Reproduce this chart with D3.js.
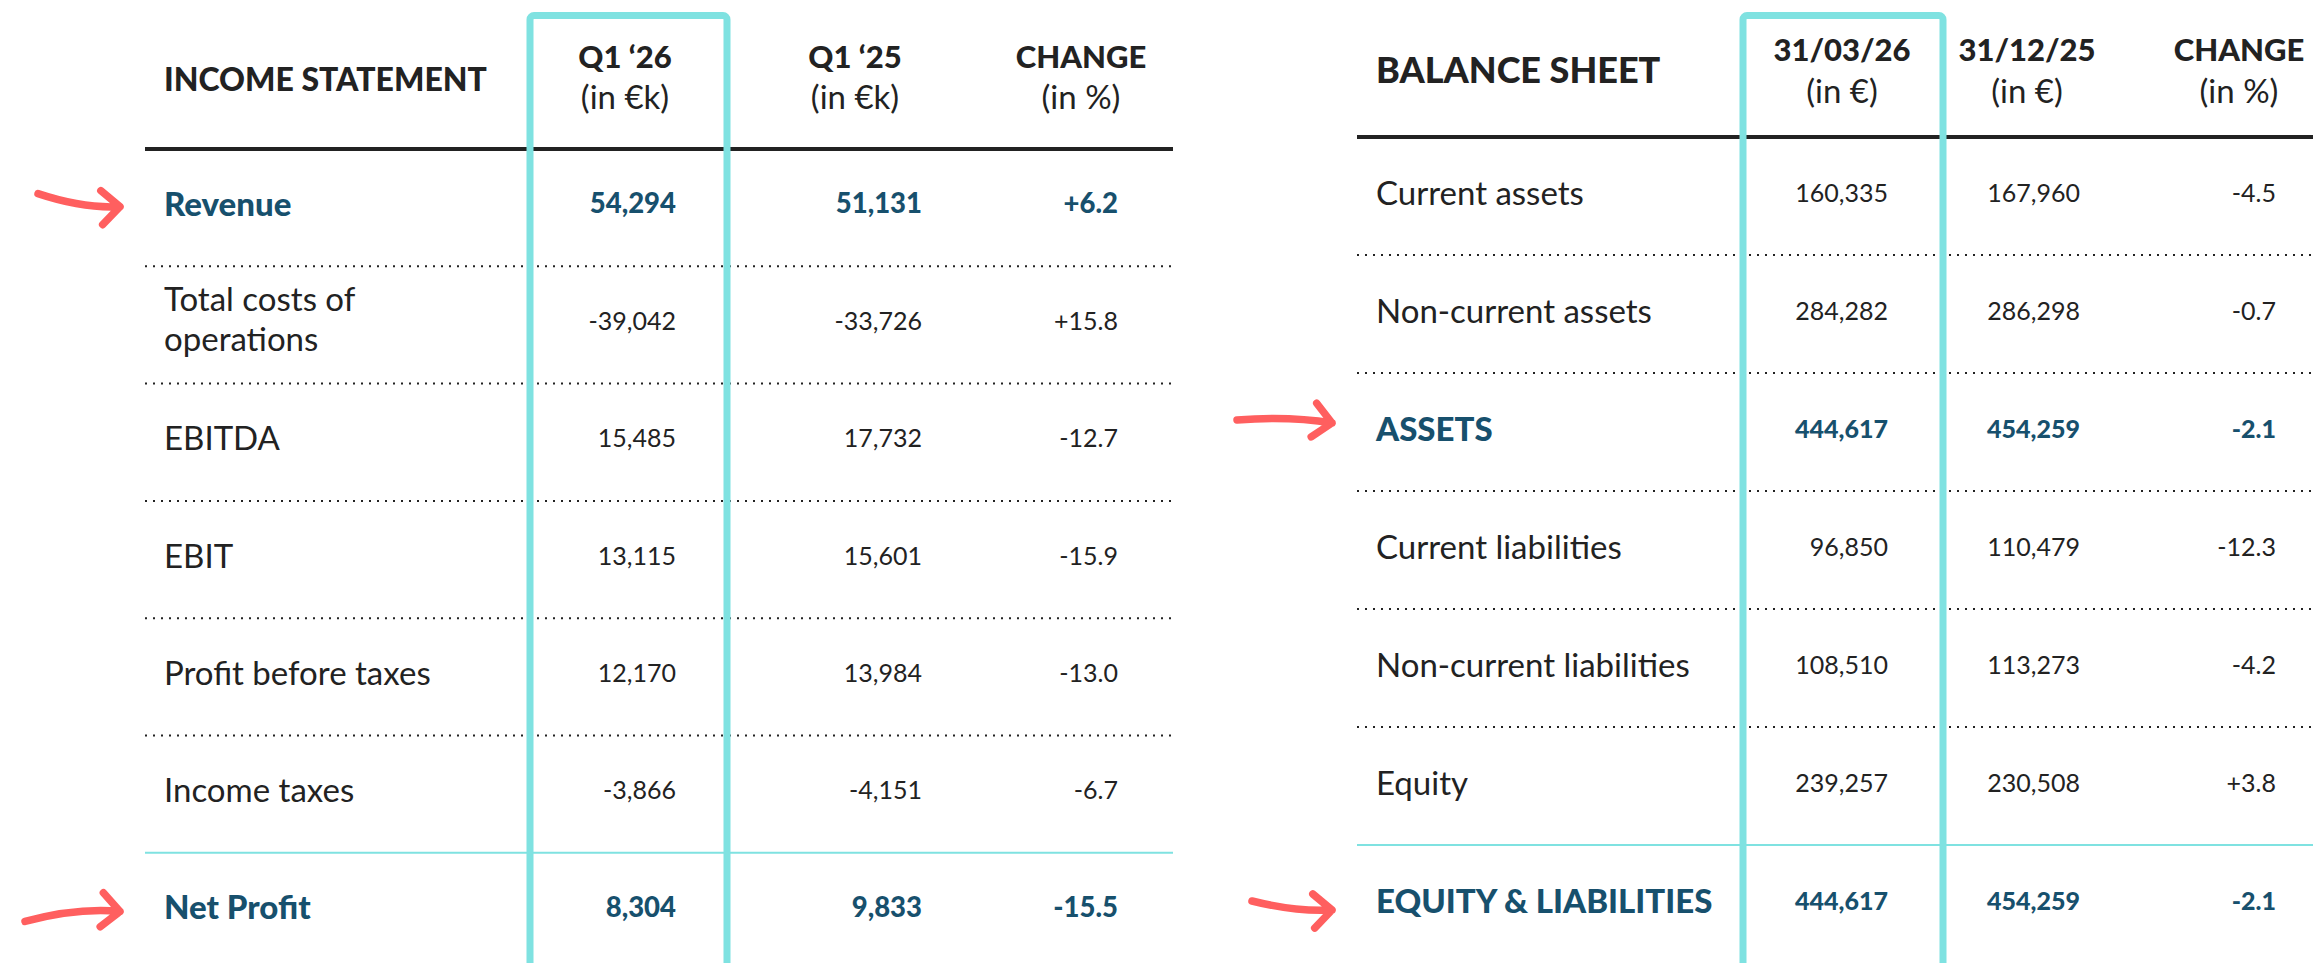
<!DOCTYPE html>
<html>
<head>
<meta charset="utf-8">
<script src="https://cdn.jsdelivr.net/npm/d3@7"></script>
<style>
  body { margin: 0; background: #fff; }
  svg { display: block; font-family: Lato, "Open Sans", sans-serif; }
</style>
</head>
<body>
<svg id="chart" width="2313" height="963"></svg>
<script>
// ---- data ----
var incomeLabels = ["Revenue", "Total costs of|operations", "EBITDA", "EBIT", "Profit before taxes", "Income taxes", "Net Profit"];
var incomeQ126 = [54294, -39042, 15485, 13115, 12170, -3866, 8304];
var incomeQ125 = [51131, -33726, 17732, 15601, 13984, -4151, 9833];
var incomeChange = [6.2, 15.8, -12.7, -15.9, -13.0, -6.7, -15.5];
var incomeHeaders = [["Q1 \u201826", "(in \u20ack)"], ["Q1 \u201825", "(in \u20ack)"], ["CHANGE", "(in %)"]];
var incomeHighlight = [0, 6];

var balanceLabels = ["Current assets", "Non-current assets", "ASSETS", "Current liabilities", "Non-current liabilities", "Equity", "EQUITY & LIABILITIES"];
var balance0326 = [160335, 284282, 444617, 96850, 108510, 239257, 444617];
var balance1225 = [167960, 286298, 454259, 110479, 113273, 230508, 454259];
var balanceChange = [-4.5, -0.7, -2.1, -12.3, -4.2, 3.8, -2.1];
var balanceHeaders = [["31/03/26", "(in \u20ac)"], ["31/12/25", "(in \u20ac)"], ["CHANGE", "(in %)"]];
var balanceHighlight = [2, 6];

var dark = "#222222", blue = "#17506d", teal = "#7fe2e1", coral = "#ff5f5f";

var loc = d3.formatLocale({ decimal: ".", thousands: ",", grouping: [3], currency: ["", ""], minus: "-" });
var fmtNum = loc.format(",d");
var fmtPct = loc.format("+.1f");

var svg = d3.select("#chart");

function drawTable(opt) {
    var g = svg.append("g");
    var n = opt.labels.length;

    // rows
    var y = d3.scaleBand().domain(d3.range(n)).range([opt.lineY, opt.lineY + n * opt.rowH]);

    // title
    g.append("text")
        .attr("x", opt.labelX).attr("y", opt.titleY)
        .attr("dominant-baseline", "central")
        .style("font-size", opt.titleSize + "px").style("font-weight", 900)
        .attr("fill", dark)
        .text(opt.title);

    // column headers
    opt.headers.forEach(function (h, i) {
        g.append("text")
            .attr("x", opt.headX[i]).attr("y", opt.headY[0])
            .attr("text-anchor", "middle").attr("dominant-baseline", "central")
            .style("font-size", "31px").style("font-weight", 900)
            .attr("fill", dark).text(h[0]);
        g.append("text")
            .attr("x", opt.headX[i]).attr("y", opt.headY[1])
            .attr("text-anchor", "middle").attr("dominant-baseline", "central")
            .style("font-size", "33px")
            .attr("fill", dark).text(h[1]);
    });

    // thick rule under headers
    g.append("line")
        .attr("x1", opt.ruleX[0]).attr("x2", opt.ruleX[1])
        .attr("y1", opt.lineY).attr("y2", opt.lineY)
        .attr("stroke", dark).attr("stroke-width", 4);

    // separators, the last one is teal
    d3.range(n - 1).forEach(function (i) {
        var yy = y(i) + y.bandwidth();
        var last = i === n - 2;
        g.append("line")
            .attr("x1", opt.ruleX[0]).attr("x2", opt.ruleX[1])
            .attr("y1", yy).attr("y2", yy)
            .attr("stroke", last ? teal : dark)
            .attr("stroke-width", 2)
            .attr("stroke-dasharray", last ? null : "2 6");
    });

    // highlighted column box (on top of the rules)
    g.append("rect")
        .attr("x", opt.boxX).attr("y", 15.5)
        .attr("width", opt.boxW).attr("height", 1000)
        .attr("rx", 4)
        .attr("fill", "none").attr("stroke", teal).attr("stroke-width", 7);

    var cols = [opt.col1.map(fmtNum), opt.col2.map(fmtNum), opt.col3.map(fmtPct)];

    opt.labels.forEach(function (lab, i) {
        var hi = opt.highlight.indexOf(i) >= 0;
        var cy = y(i) + y.bandwidth() / 2 + opt.textDy;
        var parts = lab.split("|");
        parts.forEach(function (p, k) {
            g.append("text")
                .attr("x", opt.labelX)
                .attr("y", cy + (k - (parts.length - 1) / 2) * 40 - (parts.length > 1 ? 2 : 0))
                .attr("dominant-baseline", "central")
                .style("font-size", "33px").style("font-weight", hi ? 900 : 400)
                .attr("fill", hi ? blue : dark)
                .text(p);
        });
        cols.forEach(function (c, j) {
            g.append("text")
                .attr("x", opt.valX[j]).attr("y", cy)
                .attr("text-anchor", "end").attr("dominant-baseline", "central")
                .style("font-size", (hi ? opt.boldValSize : 25) + "px").style("font-weight", hi ? 900 : 400)
                .attr("fill", hi ? blue : dark)
                .text(c[i]);
        });
    });

    // arrows on highlighted rows
    opt.arrows.forEach(function (a) {
        var cy = y(a.row) + y.bandwidth() / 2 + opt.textDy;
        var tip = [opt.labelX - 44, cy + a.tipDy];
        var start = [tip[0] + a.dx, tip[1] + a.dy];
        var ctrl = [tip[0] + a.dx * 0.45, tip[1] + a.bend];
        var p = d3.path();
        p.moveTo(start[0], start[1]);
        p.quadraticCurveTo(ctrl[0], ctrl[1], tip[0], tip[1]);
        var ang = Math.atan2(tip[1] - ctrl[1], tip[0] - ctrl[0]);
        var len = 25, spread = 0.75;
        var a1 = [tip[0] - len * Math.cos(ang - spread), tip[1] - len * Math.sin(ang - spread)];
        var a2 = [tip[0] - len * Math.cos(ang + spread), tip[1] - len * Math.sin(ang + spread)];
        p.moveTo(a1[0], a1[1]);
        p.lineTo(tip[0], tip[1]);
        p.lineTo(a2[0], a2[1]);
        g.append("path")
            .attr("d", p.toString())
            .attr("fill", "none").attr("stroke", coral)
            .attr("stroke-width", 7.5).attr("stroke-linecap", "round").attr("stroke-linejoin", "round");
    });
}

drawTable({
    title: "INCOME STATEMENT", titleSize: 32, labels: incomeLabels,
    col1: incomeQ126, col2: incomeQ125, col3: incomeChange,
    headers: incomeHeaders, highlight: incomeHighlight, boldValSize: 27.5,
    labelX: 164, titleY: 78, headX: [625, 855, 1081], headY: [56, 96],
    lineY: 149, rowH: 117.3, ruleX: [145, 1173], textDy: -5,
    valX: [676, 922, 1118], boxX: 530, boxW: 197,
    arrows: [
        { row: 0, tipDy: 4, dx: -82, dy: -13, bend: 2 },
        { row: 6, tipDy: 5, dx: -95, dy: 10, bend: -4 }
    ]
});

drawTable({
    title: "BALANCE SHEET", titleSize: 36, labels: balanceLabels,
    col1: balance0326, col2: balance1225, col3: balanceChange,
    headers: balanceHeaders, highlight: balanceHighlight, boldValSize: 25,
    labelX: 1376, titleY: 69, headX: [1842, 2027, 2239], headY: [49, 90],
    lineY: 137, rowH: 118, ruleX: [1357, 2313], textDy: -4,
    valX: [1888, 2080, 2276], boxX: 1743, boxW: 200,
    arrows: [
        { row: 2, tipDy: -5, dx: -95, dy: -3, bend: -7 },
        { row: 6, tipDy: 10, dx: -80, dy: -9, bend: 2 }
    ]
});
</script>
</body>
</html>
